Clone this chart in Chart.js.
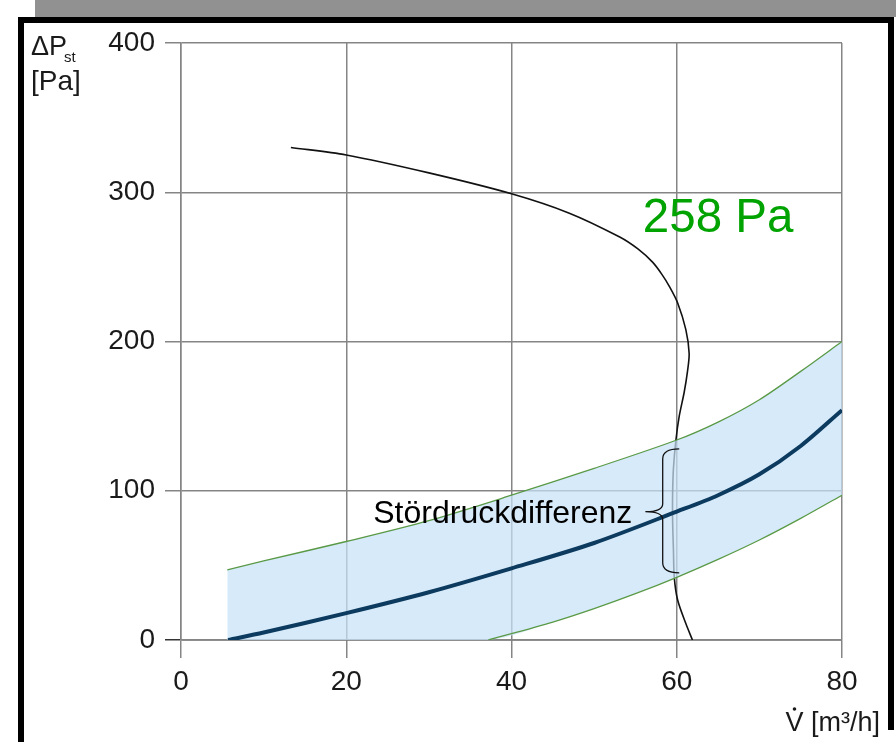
<!DOCTYPE html>
<html>
<head>
<meta charset="utf-8">
<script src="https://cdn.jsdelivr.net/npm/chart.js@4.4.0/dist/chart.umd.min.js"></script>
<style>
  body { margin: 0; background: #fff; }
  #wrap { position: relative; width: 896px; height: 742px; overflow: hidden; background: #fff; }
  #bar { position: absolute; left: 35px; top: 0; width: 861px; height: 17px; background: #919191; }
  .edge { position: absolute; background: #000; }
  canvas { position: absolute; left: 0; top: 0; }
</style>
</head>
<body>
<div id="wrap">
  <div id="bar"></div>
  <div class="edge" style="left:18px;top:17px;width:876px;height:6px"></div>
  <div class="edge" style="left:18px;top:17px;width:6px;height:725px"></div>
  <div class="edge" style="left:888px;top:17px;width:6px;height:713px"></div>
  <canvas id="chartP" width="896" height="742"></canvas>
</div>
<script>
// Anlagenkennlinie (Mitte) und Toleranzband
var midV   = [5.7, 10, 20, 30, 40, 50, 60, 65, 70, 75, 80];
var midP   = [0, 5, 18, 32, 48, 65, 86, 97, 111, 130, 154];
var upV    = [5.6, 10, 20, 30, 40, 50, 60, 65, 70, 75, 80];
var upP    = [47, 53, 66, 80, 97, 115, 134, 146, 161, 180, 200];
var lowV   = [37.2, 45, 50, 55, 60, 65, 70, 75, 80];
var lowP   = [0, 12, 21, 31, 42, 54, 67, 81.5, 97];
var bandStartV = 5.6;
// Ventilatorkennlinie
var fanV   = [13.3, 20, 30, 40, 47, 53.1, 55.3, 57.1, 58.2, 59.1, 60.1, 61.1, 61.5, 61.3, 60.9, 60.3, 59.9, 59.6, 59.5, 59.5, 59.6, 59.7, 60.1, 61.1, 61.9];
var fanP   = [330, 325, 313, 299, 286, 270, 262, 253, 245, 237, 226, 208, 192, 180, 166, 150, 134, 115, 98, 80, 60, 42, 27, 11, 0];

var xTicks = [0, 20, 40, 60, 80];
var yTicks = [0, 100, 200, 300, 400];

function pts(xs, ys) {
  return xs.map(function (v, i) { return { x: v, y: ys[i] }; });
}

var FONT = "'Liberation Sans', Arial, sans-serif";

const extras = {
  id: 'extras',
  afterDraw(chart) {
    const ctx = chart.ctx;
    const x = chart.scales.x, y = chart.scales.y;
    ctx.save();
    ctx.fillStyle = '#1a1a1a';
    ctx.textBaseline = 'alphabetic';

    // y axis title
    ctx.textAlign = 'left';
    ctx.font = '27px ' + FONT;
    ctx.fillText('ΔP', 31, 55);
    ctx.font = '15px ' + FONT;
    ctx.fillText('st', 64, 62);
    ctx.font = '28px ' + FONT;
    ctx.fillText('[Pa]', 31, 90);

    // x axis title
    ctx.textAlign = 'right';
    ctx.font = '27px ' + FONT;
    ctx.fillText('V [m³/h]', 880, 731);
    const vw = ctx.measureText('V [m³/h]').width;
    const vx = 880 - vw + ctx.measureText('V').width / 2;
    ctx.beginPath();
    ctx.arc(vx, 709, 1.8, 0, Math.PI * 2);
    ctx.fill();

    // Klammer
    const xe = x.getPixelForValue(60.3), xl = x.getPixelForValue(58.3), xt = x.getPixelForValue(56.2);
    const yt = y.getPixelForValue(128), ym = y.getPixelForValue(86), yb = y.getPixelForValue(45);
    ctx.strokeStyle = '#111';
    ctx.lineWidth = 1.3;
    ctx.beginPath();
    ctx.moveTo(xe, yt);
    ctx.quadraticCurveTo(xl, yt, xl, yt + 10);
    ctx.lineTo(xl, ym - 8);
    ctx.quadraticCurveTo(xl, ym, xt, ym);
    ctx.quadraticCurveTo(xl, ym, xl, ym + 8);
    ctx.lineTo(xl, yb - 10);
    ctx.quadraticCurveTo(xl, yb, xe, yb);
    ctx.stroke();

    ctx.fillStyle = '#000';
    ctx.textAlign = 'right';
    ctx.font = '32px ' + FONT;
    ctx.fillText('Stördruckdifferenz', xt - 13, ym + 11);

    ctx.fillStyle = '#00a300';
    ctx.textAlign = 'left';
    ctx.font = '47.5px ' + FONT;
    ctx.fillText('258 Pa', x.getPixelForValue(55.9), y.getPixelForValue(273.6));
    ctx.restore();
  }
};

const config = {
  type: 'line',
  data: {
    datasets: [
      {
        label: 'Anlagenkennlinie',
        data: pts(midV, midP),
        borderColor: '#0c3b5f',
        borderWidth: 4,
        tension: 0.3,
        pointRadius: 0,
        fill: false
      },
      {
        label: 'obere Grenze',
        data: pts(upV, upP),
        borderColor: '#5a9a46',
        borderWidth: 1.3,
        tension: 0.3,
        pointRadius: 0,
        fill: false
      },
      {
        label: 'untere Grenze',
        data: pts(lowV, lowP),
        borderColor: '#5a9a46',
        borderWidth: 1.3,
        tension: 0.3,
        pointRadius: 0,
        fill: false
      },
      {
        label: 'Band',
        data: [{ x: bandStartV, y: 0 }].concat(pts(lowV, lowP)),
        borderWidth: 0,
        borderColor: 'rgba(0,0,0,0)',
        tension: 0.3,
        pointRadius: 0,
        fill: 1,
        backgroundColor: 'rgba(198, 226, 248, 0.72)'
      },
      {
        label: 'Ventilator',
        data: pts(fanV, fanP),
        borderColor: '#111',
        borderWidth: 1.6,
        tension: 0.3,
        pointRadius: 0,
        fill: false
      }
    ]
  },
  options: {
    responsive: false,
    animation: false,
    layout: { padding: { top: 43, right: 54, left: 0, bottom: 0 } },
    plugins: {
      legend: { display: false },
      tooltip: { enabled: false }
    },
    scales: {
      x: {
        type: 'linear',
        min: 0,
        max: 80,
        afterBuildTicks: function (s) { s.ticks = xTicks.map(function (v) { return { value: v }; }); },
        afterFit: function (s) { s.height = 102; },
        grid: { color: '#858585', lineWidth: 1.5, tickLength: 18 },
        border: { color: '#858585', width: 1.5 },
        ticks: { color: '#1a1a1a', padding: 7, font: { family: FONT, size: 28 } }
      },
      y: {
        type: 'linear',
        min: 0,
        max: 400,
        afterBuildTicks: function (s) { s.ticks = yTicks.map(function (v) { return { value: v }; }); },
        afterFit: function (s) { s.width = 181; },
        grid: {
          color: function (c) { return c.tick && c.tick.value === 0 ? '#333' : '#858585'; },
          lineWidth: 1.5,
          tickLength: 16
        },
        border: { color: '#858585', width: 1.5 },
        ticks: { color: '#1a1a1a', padding: 10, font: { family: FONT, size: 28 } }
      }
    }
  },
  plugins: [extras]
};

new Chart(document.getElementById('chartP'), config);
</script>
</body>
</html>
